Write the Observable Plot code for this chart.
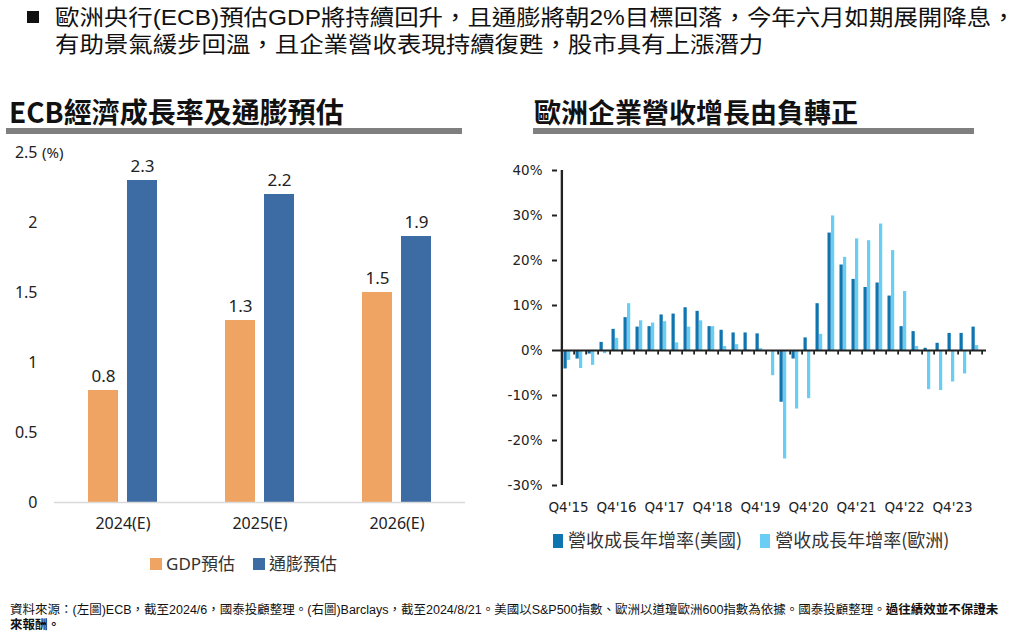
<!DOCTYPE html>
<html><head><meta charset="utf-8">
<script src="https://cdn.jsdelivr.net/npm/d3@7"></script>
<script src="https://cdn.jsdelivr.net/npm/@observablehq/plot@0.6"></script>
<style>
body{margin:0;width:1024px;height:638px;position:relative;background:#fff;font-family:"Noto Sans CJK TC",sans-serif;color:#111;overflow:hidden}
.abs{position:absolute;white-space:nowrap}
.sq{position:absolute;width:12px;height:12px}
.hd{position:absolute;left:55px;font-family:"Liberation Sans","Noto Sans CJK TC",sans-serif;font-size:22px;line-height:26px;white-space:nowrap;transform:scaleX(1.11);transform-origin:0 50%}
.ft{font-family:"Liberation Sans","Noto Sans CJK TC",sans-serif}
#right g[aria-label="y-axis tick"] path{stroke-width:2}
</style></head><body>
<div class="sq" style="left:27px;top:11px;background:#111"></div>
<div class="hd" style="top:5px">歐洲央行(ECB)預估GDP將持續回升，且通膨將朝2%目標回落，今年六月如期展開降息，</div>
<div class="hd" style="top:32px">有助景氣緩步回溫，且企業營收表現持續復甦，股市具有上漲潛力</div>

<div class="abs" style="left:9px;top:91px;font-size:28px;font-weight:bold">ECB經濟成長率及通膨預估</div>
<div class="abs" style="left:6px;top:128px;width:456px;height:6px;background:#7f7f7f"></div>
<div class="abs" style="left:534px;top:92px;font-size:27px;font-weight:bold">歐洲企業營收增長由負轉正</div>
<div class="abs" style="left:533px;top:128px;width:441px;height:6px;background:#7f7f7f"></div>

<div id="left" class="abs" style="left:0;top:140px"></div>
<div class="abs" style="left:42px;top:142px;font-family:'Noto Sans',sans-serif;font-size:15px;color:#222">(%)</div>
<div id="legL" class="abs" style="left:150px;top:550px;font-size:17px;color:#333"></div>

<div id="right" class="abs" style="left:490px;top:150px"></div>
<div id="legR" class="abs" style="left:553px;top:526px;font-size:18px;color:#333"></div>

<div class="abs ft" style="left:10px;top:603px;font-size:12.5px;line-height:15px;color:#111">資料來源：(左圖)ECB，截至2024/6，國泰投顧整理。(右圖)Barclays，截至2024/8/21。美國以S&amp;P500指數、歐洲以道瓊歐洲600指數為依據。國泰投顧整理。<b>過往績效並不保證未<br>來報酬。</b></div>

<script>
// ---- left chart data ----
const years = ["2024(E)", "2025(E)", "2026(E)"];
const leftSeries = ["GDP預估", "通膨預估"];
const gdpForecast = [0.8, 1.3, 1.5];
const cpiForecast = [2.3, 2.2, 1.9];
const leftTicks = [0, 0.5, 1, 1.5, 2, 2.5];
const leftColors = ["#F0A463", "#3C6CA3"];

// ---- right chart data ----
const quarters = ["Q4'15","Q1'16","Q2'16","Q3'16","Q4'16","Q1'17","Q2'17","Q3'17","Q4'17",
  "Q1'18","Q2'18","Q3'18","Q4'18","Q1'19","Q2'19","Q3'19","Q4'19",
  "Q1'20","Q2'20","Q3'20","Q4'20","Q1'21","Q2'21","Q3'21","Q4'21",
  "Q1'22","Q2'22","Q3'22","Q4'22","Q1'23","Q2'23","Q3'23","Q4'23","Q1'24","Q2'24"];
const quarterTicks = ["Q4'15","Q4'16","Q4'17","Q4'18","Q4'19","Q4'20","Q4'21","Q4'22","Q4'23"];
const rightSeries = ["營收成長年增率(美國)", "營收成長年增率(歐洲)"];
const usRevenue = [-4.1,-1.9,-0.8,1.8,4.7,7.3,5.2,5.3,7.9,8.1,9.5,8.7,5.3,4.5,3.9,3.9,3.7,0,-11.5,-1.9,2.8,10.4,26.1,19.0,15.8,14.0,15.0,12.1,5.3,4.2,0.5,1.6,3.8,3.8,5.2];
const euRevenue = [-2.2,-4.0,-3.3,-0.7,2.7,10.4,6.6,6.1,6.4,1.7,5.2,6.6,5.3,0.9,1.3,0.1,0.4,-5.6,-24.1,-13.0,-10.7,3.6,29.9,20.7,24.8,24.4,28.1,22.2,13.1,0.9,-8.7,-8.9,-7.0,-5.2,1.1];
const rightTicks = [-30, -20, -10, 0, 10, 20, 30, 40];
const rightColors = ["#0F75B0", "#6ACDF4"];

// ---- left chart ----
const leftRows = years.flatMap((y, i) => [
  {year: y, series: leftSeries[0], value: gdpForecast[i]},
  {year: y, series: leftSeries[1], value: cpiForecast[i]}
]);
const left = Plot.plot({
  width: 470, height: 400, marginTop: 12, marginBottom: 38, marginLeft: 54, marginRight: 5,
  style: {fontFamily: "'Noto Sans',sans-serif", fontSize: "16px", color: "#222", background: "transparent"},
  fx: {domain: years, padding: 0, label: null, axis: "bottom", tickSize: 0, tickPadding: 15},
  x: {domain: leftSeries, paddingInner: 0.23, paddingOuter: 0.85, axis: null},
  y: {domain: [0, 2.5], ticks: leftTicks, tickSize: 0, tickPadding: 17, label: null, tickFormat: d => String(d)},
  color: {domain: leftSeries, range: leftColors},
  marks: [
    Plot.barY(leftRows, {fx: "year", x: "series", y: "value", fill: "series"}),
    Plot.ruleY([0], {stroke: "#d9d9d9", strokeWidth: 1.5}),
    Plot.text(leftRows, {fx: "year", x: "series", y: "value", text: d => d.value.toFixed(1), dy: -9, lineAnchor: "bottom", fontSize: 17, fill: "#222"})
  ]
});
document.getElementById("left").append(left);
document.getElementById("legL").innerHTML = leftSeries.map((s, i) =>
  `<span style="display:inline-block;width:12px;height:12px;background:${leftColors[i]};margin-right:4px"></span><span style="${i===0?"font-family:'Noto Sans','Noto Sans CJK TC',sans-serif;":""}margin-right:18px">${s}</span>`).join("");

// ---- right chart ----
const W = 534, ML = 67, MR = 38;
const step = (W - ML - MR) / quarters.length;
const rightRows = quarters.flatMap((q, i) => [
  {q, series: rightSeries[0], v: usRevenue[i]},
  {q, series: rightSeries[1], v: euRevenue[i]}
]);
const right = Plot.plot({
  width: W, height: 375, marginTop: 20, marginBottom: 40, marginLeft: ML, marginRight: MR,
  style: {fontFamily: "'DejaVu Sans',sans-serif", fontSize: "13.5px", color: "#222", background: "transparent"},
  x: {domain: quarters, padding: 0, ticks: quarterTicks, tickSize: 0, tickPadding: 17, label: null},
  y: {domain: [-30, 40], ticks: rightTicks, tickSize: 5, tickPadding: 10, label: null, tickFormat: d => d + "%"},
  color: {domain: rightSeries, range: rightColors},
  marks: [
    Plot.barY(rightRows.filter(d => d.series === rightSeries[0]), {x: "q", y: "v", fill: "series", insetLeft: 1.5, insetRight: step - 5}),
    Plot.barY(rightRows.filter(d => d.series === rightSeries[1]), {x: "q", y: "v", fill: "series", insetLeft: 5, insetRight: step - 8.5}),
    Plot.ruleY([0], {stroke: "#222", strokeWidth: 2}),
    // category boundary ticks below the zero line
    Plot.barY(quarters, {x: d => d, y1: 0, y2: -1, fill: "#222", insetLeft: step - 1, insetRight: -1}),
    // y axis line
    Plot.barY(quarters.slice(0, 1), {x: d => d, y1: -30, y2: 40, fill: "#222", insetLeft: -1.3, insetRight: step - 1.3})
  ]
});
document.getElementById("right").append(right);
document.getElementById("legR").innerHTML = rightSeries.map((s, i) =>
  `<span style="display:inline-block;width:10px;height:14px;background:${rightColors[i]};margin-right:5px;vertical-align:-1px"></span><span style="margin-right:18px">${s}</span>`).join("");
</script>
</body></html>
